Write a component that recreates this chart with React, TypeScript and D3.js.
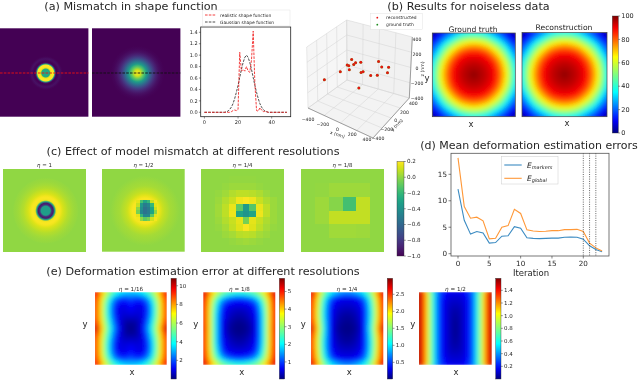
// App.tsx
import React from 'react';
import * as d3 from 'd3';

// (a) shape function profile, values along the red / black dashed lines
const shapeIndex = d3.range(50);
const realisticShape = [0, 0, 0, 0, 0, 0, 0, 0, 0, 0, 0, 0, 0, 0, 0, 0, 0.01, 0.03, 0.04, 0.03, 0.05, 1.05, 0.72, 0.75, 0.72, 0.8, 0.72, 0.7, 0.92, 1.42, 0.5, 0.03, 0.02, 0.08, 0.04, 0.01, 0.02, 0.01, 0, 0, 0, 0, 0, 0, 0, 0, 0, 0, 0, 0];
const gaussianShape = [0, 0, 0, 0, 0, 0, 0, 0, 0, 0, 0, 0, 0, 0.01, 0.02, 0.05, 0.09, 0.15, 0.24, 0.35, 0.47, 0.61, 0.75, 0.87, 0.96, 1, 0.96, 0.87, 0.75, 0.61, 0.47, 0.35, 0.24, 0.15, 0.09, 0.05, 0.02, 0.01, 0, 0, 0, 0, 0, 0, 0, 0, 0, 0, 0, 0];
const shapeXTicks = [0, 20, 40];
const shapeYTicks = [0, 0.2, 0.4, 0.6, 0.8, 1.0, 1.2, 1.4];

// radial profiles of the images, centre to outside
const realisticProfile = [0.6, 0.6, 0.6, 0.6, 0.6, 0.95, 1, 1, 1, 0.6, 0.05, 0, 0.01, 0.03, 0.04, 0.03, 0.01, 0];
const gaussianProfile = [1, 0.93, 0.75, 0.55, 0.36, 0.2, 0.1, 0.04, 0.015, 0];

// (b) marker positions in nm
const markerX = [-375, -237, -212, -192, -217, -130, -138, -13, -125, 51, 76, 200, 251, 146, 216, 271, 317, 84];
const markerY = [-100, 0, 100, 100, 200, 100, 150, 50, 0, -50, -50, -100, -50, 150, 100, 150, 50, -150];
const markerZ = [-156, -48, 1, -3, 23, 32, 29, 119, 12, 57, 76, 90, 86, 130, 107, 94, 89, -74];
const axisTicks3d = [-400, -200, 0, 200, 400];

// (b) deformation, top left quarter of the map, edge to centre
const truthQuarter = [
  [3, 10, 17, 24, 31, 35, 36],
  [10, 18, 30, 41, 53, 59, 61],
  [17, 30, 47, 61, 71, 76, 78],
  [24, 41, 61, 74, 84, 89, 90],
  [31, 53, 71, 84, 91, 93, 94],
  [35, 59, 76, 89, 93, 96, 97],
  [36, 61, 78, 90, 94, 97, 100],
];
const jetTicks = [0, 20, 40, 60, 80, 100];

// (c) model mismatch at each resolution
const mismatchFine = [-0.33, -0.33, -0.33, -0.33, -0.85, -0.92, -0.3, 0.17, 0.19, 0.19, 0.17, 0.14, 0.12, 0.1, 0.08, 0.06, 0.05, 0.04, 0.03, 0.02, 0.015, 0.01, 0];
const mismatchHalfProfile = [0.18, 0.18, 0.18, 0.19, 0.19, 0.19, 0.15, 0.11, 0.08, 0.06, 0.04, 0.03, 0.02, 0.01, 0];
const mismatchHalfCore = [
  [0.15, -0.15, -0.3, -0.2, 0.1, 0.18],
  [0.1, -0.35, -0.5, -0.45, -0.2, 0.15],
  [0, -0.4, -0.55, -0.5, -0.3, 0.1],
  [-0.05, -0.45, -0.55, -0.5, -0.3, 0],
  [0.15, -0.2, -0.45, -0.45, -0.1, 0.15],
  [0.18, 0, -0.1, -0.05, 0.12, 0.18],
];
const mismatchQuarter = [
  [0, 0, 0, 0, 0, 0, 0, 0, 0, 0, 0, 0],
  [0, 0, 0, 0, 0.005, 0.005, 0.005, 0.005, 0, 0, 0, 0],
  [0, 0, 0, 0.01, 0.02, 0.02, 0.02, 0.02, 0.01, 0, 0, 0],
  [0, 0, 0.01, 0.03, 0.06, 0.08, 0.08, 0.07, 0.05, 0.02, 0, 0],
  [0, 0, 0.02, 0.06, 0.1, 0.17, 0.19, 0.17, 0.1, 0.05, 0.02, 0],
  [0, 0, 0.03, 0.08, 0.16, -0.1, -0.35, -0.12, 0.16, 0.08, 0.02, 0],
  [0, 0, 0.03, 0.08, 0.17, -0.3, -0.38, -0.3, 0.17, 0.08, 0.02, 0],
  [0, 0, 0.02, 0.06, 0.1, 0.15, -0.05, 0.15, 0.1, 0.05, 0.02, 0],
  [0, 0, 0.01, 0.04, 0.09, 0.14, 0.19, 0.14, 0.08, 0.04, 0.01, 0],
  [0, 0, 0, 0.02, 0.04, 0.07, 0.08, 0.07, 0.04, 0.02, 0, 0],
  [0, 0, 0, 0, 0.01, 0.02, 0.03, 0.02, 0.01, 0, 0, 0],
  [0, 0, 0, 0, 0, 0, 0, 0, 0, 0, 0, 0],
];
const mismatchEighth = [
  [0, 0, 0, 0, 0, 0],
  [0, 0.005, 0.025, 0.025, 0.025, 0],
  [0, 0.025, -0.02, -0.16, 0.09, 0],
  [0, 0.025, 0.09, 0.09, 0.09, 0],
  [0, 0, 0.03, 0.03, 0.025, 0],
  [0, 0, 0, 0, 0, 0],
];
const mismatchTicks = [0.2, 0, -0.2, -0.4, -0.6, -0.8, -1];

// (d) errors per iteration
const iterations = d3.range(24);
const errorMarkers = [12.2, 6.3, 3.7, 4.2, 3.9, 2.0, 2.1, 3.3, 3.4, 5.1, 4.8, 3.0, 2.9, 2.85, 2.9, 2.95, 2.95, 3.1, 3.15, 3.1, 2.75, 1.5, 0.8, 0.35];
const errorGlobal = [18.1, 8.9, 6.7, 6.9, 6.2, 2.8, 2.9, 5.0, 5.3, 8.4, 7.6, 4.5, 4.3, 4.2, 4.25, 4.35, 4.35, 4.55, 4.55, 4.6, 4.2, 2.0, 1.1, 0.5];
const resolutionChanges = [20, 21, 22];
const errorXTicks = [0, 5, 10, 15, 20];
const errorYTicks = [0, 5, 10, 15];

// (e) deformation error in percent of the colour range, top left quarter
const errorQuarter16 = [
  [92, 78, 60, 46, 38, 33, 32],
  [88, 70, 48, 28, 18, 16, 20],
  [86, 68, 42, 20, 11, 10, 14],
  [85, 68, 40, 18, 9, 9, 11],
  [85, 68, 42, 20, 9, 7, 8],
  [90, 70, 46, 24, 10, 4, 3],
  [100, 75, 50, 28, 12, 4, 1],
];
const errorQuarter8 = [
  [95, 80, 66, 54, 48, 44, 42],
  [92, 72, 50, 32, 22, 18, 16],
  [90, 70, 42, 20, 12, 10, 10],
  [90, 68, 38, 16, 9, 7, 6],
  [90, 68, 36, 14, 8, 5, 4],
  [90, 68, 36, 13, 6, 3, 2],
  [92, 68, 36, 13, 5, 2, 1],
];
const errorQuarter4 = [
  [95, 78, 56, 40, 32, 28, 26],
  [90, 70, 44, 24, 14, 11, 10],
  [88, 68, 40, 18, 10, 8, 8],
  [88, 66, 38, 16, 8, 6, 5],
  [88, 66, 38, 16, 7, 4, 3],
  [90, 68, 40, 16, 6, 3, 2],
  [98, 72, 42, 16, 5, 2, 1],
];
const errorQuarter2 = [
  [98, 78, 48, 24, 15, 11, 10],
  [98, 78, 48, 22, 12, 8, 8],
  [98, 78, 48, 22, 11, 7, 6],
  [98, 78, 48, 22, 11, 6, 4],
  [98, 78, 48, 22, 11, 6, 3],
  [98, 78, 48, 22, 11, 6, 2],
  [98, 78, 48, 22, 11, 6, 2],
];

const FONT = '"DejaVu Sans", sans-serif';
const TEXT = '#262626';

const jet = d3
  .scaleLinear<string>()
  .domain([0, 0.11, 0.35, 0.5, 0.65, 0.89, 1])
  .range(['#00007f', '#0000ff', '#00ffff', '#7fff7f', '#ffff00', '#ff0000', '#7f0000']);

const mismatchColor = (v: number) => d3.interpolateViridis((v + 1) / 1.2);

const RadialImage = ({ id, x, y, size, cx, cy, step, values, color }: any) => {
  const offset = d3.scaleLinear().domain([0, values.length - 1]).range([0, 100]);
  return (
    <g>
      <defs>
        <radialGradient id={id} gradientUnits="userSpaceOnUse" cx={cx} cy={cy} r={step * (values.length - 1)}>
          {values.map((v: number, i: number) => (
            <stop key={i} offset={`${offset(i)}%`} stopColor={color(v)} />
          ))}
        </radialGradient>
      </defs>
      <rect x={x} y={y} width={size} height={size} fill={`url(#${id})`} />
    </g>
  );
};

const CellImage = ({ x, y, size, grid, color }: any) => {
  const band = d3.scaleBand<number>().domain(d3.range(grid.length)).range([0, size]);
  return (
    <g shapeRendering="crispEdges">
      {grid.map((row: number[], r: number) =>
        row.map((v, c) => (
          <rect key={`${r}-${c}`} x={x + band(c)!} y={y + band(r)!} width={band.bandwidth()} height={band.bandwidth()} fill={color(v)} />
        ))
      )}
    </g>
  );
};

// map from a read quarter, mirrored to the whole panel and drawn as filled contours
const ContourMap = ({ id, x, y, width, height, quarter, border }: any) => {
  const rows = quarter.concat(quarter.slice(0, -1).reverse());
  const full = rows.map((r: number[]) => r.concat(r.slice(0, -1).reverse()));
  const n = full.length;
  const sx = d3.scaleLinear().domain([0.5, n - 0.5]).range([x, x + width]);
  const sy = d3.scaleLinear().domain([0.5, n - 0.5]).range([y, y + height]);
  const levels = d3.range(1, 100, 1.5);
  const contours = d3.contours().size([n, n]).thresholds(levels)(full.flat());
  const path = d3.geoPath(
    d3.geoTransform({
      point(px: number, py: number) {
        (this as any).stream.point(sx(px), sy(py));
      },
    })
  );
  return (
    <g>
      <clipPath id={id}>
        <rect x={x} y={y} width={width} height={height} />
      </clipPath>
      <filter id={`${id}-soft`} x="-10%" y="-10%" width="120%" height="120%">
        <feGaussianBlur stdDeviation={2.4} />
      </filter>
      <g clipPath={`url(#${id})`}>
        <g filter={`url(#${id}-soft)`}>
          <rect x={sx(0)} y={sy(0)} width={sx(n) - sx(0)} height={sy(n) - sy(0)} fill={jet(0)} />
          {contours.map((c) => (
            <path key={c.value} d={path(c as any) || ''} fill={jet(c.value / 100)} />
          ))}
        </g>
      </g>
      {border && <rect x={x} y={y} width={width} height={height} fill="none" stroke="#444" strokeWidth={0.7} />}
    </g>
  );
};

const ColorBar = ({ id, x, width, top, bottom, domain, ticks, color, format, fontSize = 5.5 }: any) => {
  const scale = d3.scaleLinear().domain(domain).range([bottom, top]);
  const offsets = d3.range(0, 1.001, 0.05);
  return (
    <g fontSize={fontSize} fill={TEXT}>
      <defs>
        <linearGradient id={id} x1="0" y1="1" x2="0" y2="0">
          {offsets.map((o: number) => (
            <stop key={o} offset={`${o * 100}%`} stopColor={color(o)} />
          ))}
        </linearGradient>
      </defs>
      <rect x={x} y={top} width={width} height={bottom - top} fill={`url(#${id})`} stroke="#333" strokeWidth={0.4} />
      {ticks.map((t: number) => (
        <g key={t} transform={`translate(${x + width},${scale(t)})`}>
          <line x2={1.8} stroke="#333" strokeWidth={0.5} />
          <text x={3} dy="0.35em">{format(t)}</text>
        </g>
      ))}
    </g>
  );
};

const ShapePlot = () => {
  const x = d3.scaleLinear().domain([0, 40]).range([204.4, 271.7]);
  const y = d3.scaleLinear().domain([0, 1.4]).range([112.3, 32.3]);
  const line = d3.line<number>().x((_, i) => x(shapeIndex[i])).y((d) => y(d));
  return (
    <g fontSize={5} fill={TEXT}>
      <path d={line(gaussianShape)!} fill="none" stroke="#222" strokeWidth={0.8} strokeDasharray="2.6 1.2" />
      <path d={line(realisticShape)!} fill="none" stroke="#f01010" strokeWidth={0.8} strokeDasharray="2.6 1.2" />
      <rect x={200.7} y={27} width={90} height={89.7} fill="none" stroke="#222" strokeWidth={0.8} />
      {shapeXTicks.map((t) => (
        <g key={t} transform={`translate(${x(t)},116.7)`}>
          <line y2={1.8} stroke="#222" strokeWidth={0.5} />
          <text y={7.5} textAnchor="middle">{t}</text>
        </g>
      ))}
      {shapeYTicks.map((t) => (
        <g key={t} transform={`translate(200.7,${y(t)})`}>
          <line x2={-1.8} stroke="#222" strokeWidth={0.5} />
          <text x={-3} dy="0.35em" textAnchor="end">{d3.format('.1f')(t)}</text>
        </g>
      ))}
      <rect x={202.7} y={10} width={87.3} height={16} fill="#fff" stroke="#ddd" strokeWidth={0.4} />
      <line x1={205} x2={216} y1={15} y2={15} stroke="#f01010" strokeWidth={0.8} strokeDasharray="2.6 1.2" />
      <line x1={205} x2={216} y1={22} y2={22} stroke="#222" strokeWidth={0.8} strokeDasharray="2.6 1.2" />
      <text x={220} y={16.6} fontSize={4.4}>realistic shape function</text>
      <text x={220} y={23.6} fontSize={4.4}>Gaussian shape function</text>
    </g>
  );
};

// floor and top corners of the box: x low y low, x high y low, x high y high, x low y high
const floorBox = [[308, 108], [373, 138], [409.3, 98], [347, 80]];
const topBox = [[306.7, 47], [372, 64], [412.3, 37], [346.7, 20]];
const unit = d3.scaleLinear().domain([-400, 400]).range([0, 1]);

const corner = (box: number[][], u: number, v: number, k: number) =>
  (1 - u) * (1 - v) * box[0][k] + u * (1 - v) * box[1][k] + u * v * box[2][k] + (1 - u) * v * box[3][k];

const project = (x: number, y: number, z: number): [number, number] => {
  const u = unit(x);
  const v = unit(y);
  const w = unit(z);
  return [
    corner(floorBox, u, v, 0) * (1 - w) + corner(topBox, u, v, 0) * w,
    corner(floorBox, u, v, 1) * (1 - w) + corner(topBox, u, v, 1) * w,
  ];
};

const polygon = (pts: [number, number][]) => pts.map((p) => p.join(',')).join(' ');

const Scatter3d = () => {
  const xLabelX = d3.scaleLinear().domain([-400, 400]).range([308, 367]);
  const xLabelY = d3.scaleLinear().domain([-400, 400]).range([120.7, 140.5]);
  const yLabelX = d3.scaleLinear().domain([-400, 400]).range([378, 413.3]);
  const yLabelY = d3.scaleLinear().domain([-400, 400]).range([139.5, 105.3]);
  const zLabelY = d3.scaleLinear().domain([-400, 400]).range([98.7, 39]);
  const gridLine = (a: [number, number], b: [number, number], key: string) => (
    <line key={key} x1={a[0]} y1={a[1]} x2={b[0]} y2={b[1]} stroke="#d2d2d2" strokeWidth={0.5} />
  );
  return (
    <g fontSize={4.6} fill={TEXT}>
      <polygon points={polygon([project(-400, -400, -400), project(-400, 400, -400), project(-400, 400, 400), project(-400, -400, 400)])} fill="#f6f6f6" />
      <polygon points={polygon([project(-400, 400, -400), project(400, 400, -400), project(400, 400, 400), project(-400, 400, 400)])} fill="#f1f1f1" />
      <polygon points={polygon([project(-400, -400, -400), project(400, -400, -400), project(400, 400, -400), project(-400, 400, -400)])} fill="#f3f3f3" />
      {axisTicks3d.map((t) => (
        <g key={t}>
          {gridLine(project(t, -400, -400), project(t, 400, -400), `fx${t}`)}
          {gridLine(project(t, 400, -400), project(t, 400, 400), `bx${t}`)}
          {gridLine(project(-400, t, -400), project(400, t, -400), `fy${t}`)}
          {gridLine(project(-400, t, -400), project(-400, t, 400), `by${t}`)}
          {gridLine(project(-400, -400, t), project(-400, 400, t), `lz${t}`)}
          {gridLine(project(-400, 400, t), project(400, 400, t), `rz${t}`)}
          <text x={xLabelX(t)} y={xLabelY(t)} textAnchor="middle">{d3.format('d')(t)}</text>
          <text x={yLabelX(t)} y={yLabelY(t)} textAnchor="middle">{d3.format('d')(t)}</text>
          <text x={417} y={zLabelY(t)} dy="0.35em" textAnchor="middle">{d3.format('d')(t)}</text>
        </g>
      ))}
      <path d={d3.line()([project(-400, -400, -400), project(400, -400, -400), project(400, 400, -400), project(400, 400, 400)])!} fill="none" stroke="#555" strokeWidth={0.5} />
      <text transform="translate(337,136) rotate(17)" textAnchor="middle">x (nm)</text>
      <text transform="translate(398,126) rotate(-45)" textAnchor="middle">y (nm)</text>
      <text transform="translate(424,69) rotate(-90)" textAnchor="middle">z (nm)</text>
      {markerX.map((mx, i) => {
        const [px, py] = project(mx, markerY[i], markerZ[i]);
        return (
          <g key={i}>
            <circle cx={px} cy={py} r={1.5} fill="#8a7a1a" />
            <circle cx={px} cy={py} r={1.25} fill="#e81010" />
          </g>
        );
      })}
      <rect x={370.7} y={13.3} width={52} height={16} fill="#fff" stroke="#ddd" strokeWidth={0.4} />
      <circle cx={377.3} cy={17.7} r={0.9} fill="#e81010" />
      <circle cx={377.3} cy={24.7} r={0.9} fill="#1a8a1a" />
      <text x={386} y={19.2} fontSize={4.4}>reconstructed</text>
      <text x={386} y={26.2} fontSize={4.4}>ground truth</text>
    </g>
  );
};

const ErrorPlot = () => {
  const x = d3.scaleLinear().domain([0, 20]).range([458, 583.3]);
  const y = d3.scaleLinear().domain([0, 15]).range([253.7, 174.3]);
  const line = d3.line<number>().x((_, i) => x(iterations[i])).y((d) => y(d));
  return (
    <g fontSize={7.2} fill={TEXT}>
      <path d={line(errorMarkers)!} fill="none" stroke="#3b8bc2" strokeWidth={1.1} />
      <path d={line(errorGlobal)!} fill="none" stroke="#ff9838" strokeWidth={1.1} />
      {resolutionChanges.map((t) => (
        <line key={t} x1={x(t)} x2={x(t)} y1={153.3} y2={256} stroke="#222" strokeWidth={0.7} strokeDasharray="1 1.3" />
      ))}
      <rect x={451} y={153.3} width={158} height={102.7} fill="none" stroke="#555" strokeWidth={0.8} />
      {errorXTicks.map((t) => (
        <g key={t} transform={`translate(${x(t)},256)`}>
          <line y2={2.5} stroke="#333" strokeWidth={0.6} />
          <text y={9.5} textAnchor="middle">{t}</text>
        </g>
      ))}
      {errorYTicks.map((t) => (
        <g key={t} transform={`translate(451,${y(t)})`}>
          <line x2={-2.5} stroke="#333" strokeWidth={0.6} />
          <text x={-4} dy="0.35em" textAnchor="end">{t}</text>
        </g>
      ))}
      <rect x={501.7} y={156.7} width={56.3} height={27.3} fill="#fff" stroke="#ccc" strokeWidth={0.5} />
      <line x1={504.3} x2={521.7} y1={165} y2={165} stroke="#3b8bc2" strokeWidth={1.1} />
      <line x1={504.3} x2={521.7} y1={178.3} y2={178.3} stroke="#ff9838" strokeWidth={1.1} />
      <text x={527} y={167.5} fontStyle="italic" fontSize={7.5}>E<tspan fontSize={5} dy={1.5}>markers</tspan></text>
      <text x={527} y={180.5} fontStyle="italic" fontSize={7.5}>E<tspan fontSize={5} dy={1.5}>global</tspan></text>
      <text x={531} y={276} fontSize={8.5} textAnchor="middle">Iteration</text>
    </g>
  );
};

const titleStyle = { fontSize: 11.2, fill: TEXT };

export default function App() {
  const panelTitle = (label: string, cx: number, cy: number, size: number) => (
    <text x={cx} y={cy} fontSize={size} textAnchor="middle" fill={TEXT}>
      <tspan fontStyle="italic">η</tspan> = {label}
    </text>
  );
  const axisLetter = (s: string, cx: number, cy: number, size = 8.5) => (
    <text x={cx} y={cy} fontSize={size} textAnchor="middle" fill={TEXT}>{s}</text>
  );
  const format1 = d3.format('.1f');
  const formatInt = d3.format('d');
  const jetTicksE1 = [2, 4, 6, 8, 10];
  const jetTicksE2 = [1, 2, 3, 4, 5];
  const jetTicksE3 = [0.5, 1, 1.5, 2, 2.5];
  const jetTicksE4 = [0.2, 0.4, 0.6, 0.8, 1, 1.2, 1.4];
  return (
    <svg width={640} height={380} style={{ position: 'absolute', left: 0, top: 0, filter: 'blur(0.3px)' }} fontFamily={FONT}>
      <rect width={640} height={380} fill="#fff" />

      {/* (a) */}
      <text x={131} y={9.5} textAnchor="middle" style={titleStyle}>(a) Mismatch in shape function</text>
      <RadialImage id="a1" x={0} y={28.3} size={88.4} cx={45.7} cy={73} step={1} values={realisticProfile} color={d3.interpolateViridis} />
      <line x1={0} x2={88.4} y1={73} y2={73} stroke="#f01010" strokeWidth={0.9} strokeDasharray="2.6 1.2" />
      <RadialImage id="a2" x={92} y={28.3} size={88.4} cx={137.5} cy={73} step={3} values={gaussianProfile} color={d3.interpolateViridis} />
      <line x1={92} x2={180.4} y1={73} y2={73} stroke="#111" strokeWidth={0.9} strokeDasharray="2.6 1.2" />
      <ShapePlot />

      {/* (b) */}
      <text x={468.5} y={9.5} textAnchor="middle" style={titleStyle}>(b) Results for noiseless data</text>
      <Scatter3d />
      <ContourMap id="b1" x={432.3} y={33} width={83} height={83.7} quarter={truthQuarter} border />
      <ContourMap id="b2" x={522} y={32.5} width={85} height={84.2} quarter={truthQuarter} border />
      <text x={473} y={32} fontSize={7.6} textAnchor="middle" fill={TEXT}>Ground truth</text>
      <text x={564} y={30} fontSize={7.6} textAnchor="middle" fill={TEXT}>Reconstruction</text>
      {axisLetter('x', 471, 127)}
      {axisLetter('y', 427, 81)}
      {axisLetter('x', 567, 126)}
      <ColorBar id="cb" x={612.3} width={6} top={16} bottom={133} domain={[0, 100]} ticks={jetTicks} color={jet} format={formatInt} fontSize={6.5} />

      {/* (c) */}
      <text x={193} y={155} textAnchor="middle" style={titleStyle}>(c) Effect of model mismatch at different resolutions</text>
      <RadialImage id="c1" x={3} y={169} size={83} cx={45.7} cy={210.7} step={1.5} values={mismatchFine} color={mismatchColor} />
      <RadialImage id="c2" x={102} y={169} size={82.7} cx={145} cy={210.7} step={2.5} values={mismatchHalfProfile} color={mismatchColor} />
      <CellImage x={136.4} y={200} size={20.7} grid={mismatchHalfCore} color={mismatchColor} />
      <CellImage x={201} y={169} size={83} grid={mismatchQuarter} color={mismatchColor} />
      <CellImage x={301} y={169} size={83} grid={mismatchEighth} color={mismatchColor} />
      {panelTitle('1', 44.5, 167, 5.4)}
      {panelTitle('1/2', 143.5, 167, 5.4)}
      {panelTitle('1/4', 242.5, 167, 5.4)}
      {panelTitle('1/8', 342.5, 167, 5.4)}
      <ColorBar id="cc" x={397} width={7} top={161.5} bottom={256} domain={[-1, 0.2]} ticks={mismatchTicks} color={(t: number) => d3.interpolateViridis(t)} format={format1} fontSize={5.6} />

      {/* (d) */}
      <text x={529} y={149} textAnchor="middle" style={{ ...titleStyle, fontSize: 11 }}>(d) Mean deformation estimation errors</text>
      <ErrorPlot />

      {/* (e) */}
      <text x={203} y={275} textAnchor="middle" style={titleStyle}>(e) Deformation estimation error at different resolutions</text>
      <ContourMap id="e1" x={95} y={292.3} width={71.7} height={72.4} quarter={errorQuarter16} />
      <ContourMap id="e2" x={203.3} y={292.3} width={72} height={72.4} quarter={errorQuarter8} />
      <ContourMap id="e3" x={311} y={292.3} width={72.3} height={72.4} quarter={errorQuarter4} />
      <ContourMap id="e4" x={419} y={292.3} width={72.7} height={72.4} quarter={errorQuarter2} />
      {panelTitle('1/16', 131, 291, 5.6)}
      {panelTitle('1/8', 239.5, 291, 5.6)}
      {panelTitle('1/4', 347, 291, 5.6)}
      {panelTitle('1/2', 455.5, 291, 5.6)}
      <ColorBar id="ce1" x={171} width={5.3} top={278.3} bottom={379} domain={[0, 10.8]} ticks={jetTicksE1} color={jet} format={formatInt} />
      <ColorBar id="ce2" x={279.3} width={5.4} top={278.3} bottom={379} domain={[0.03, 5.75]} ticks={jetTicksE2} color={jet} format={formatInt} />
      <ColorBar id="ce3" x={387.3} width={5.4} top={278.3} bottom={379} domain={[0.01, 2.97]} ticks={jetTicksE3} color={jet} format={format1} />
      <ColorBar id="ce4" x={495.7} width={5.3} top={278.3} bottom={379} domain={[0, 1.59]} ticks={jetTicksE4} color={jet} format={format1} />
      {axisLetter('y', 85, 327)}
      {axisLetter('x', 132, 375)}
      {axisLetter('y', 195.7, 327)}
      {axisLetter('x', 241.7, 375)}
      {axisLetter('y', 303.3, 327)}
      {axisLetter('x', 349.3, 375)}
      {axisLetter('y', 412.7, 327)}
      {axisLetter('x', 456, 375)}
    </svg>
  );
}
